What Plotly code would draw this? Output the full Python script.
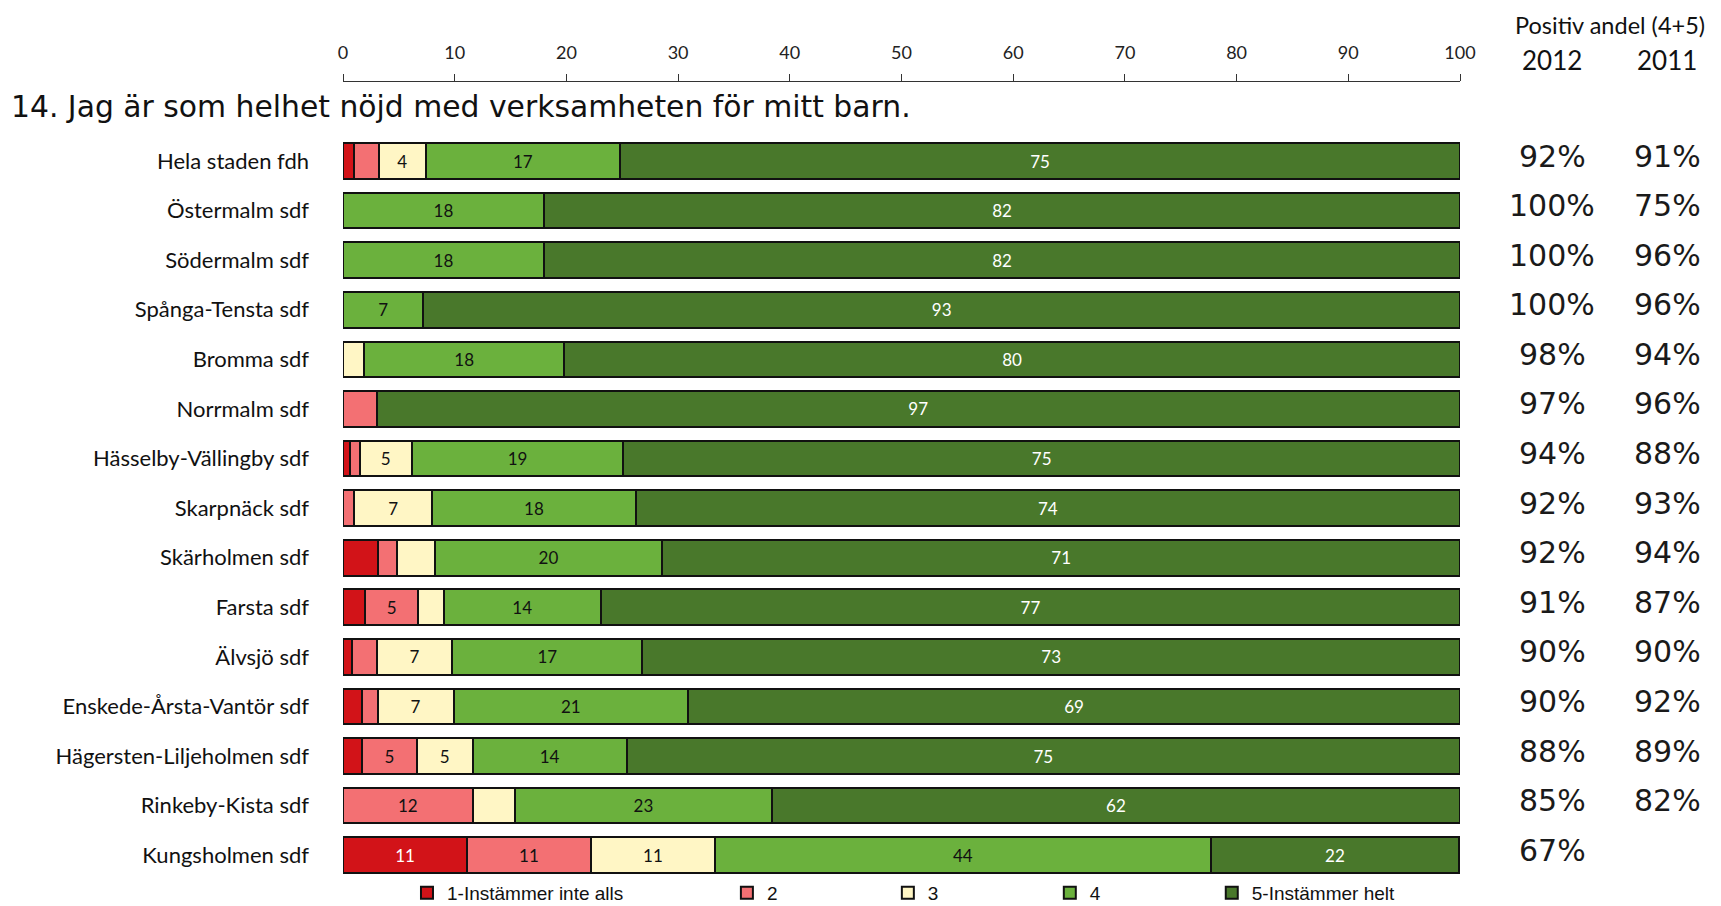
import plotly.graph_objects as go

categories = [
    "Hela staden fdh", "Östermalm sdf", "Södermalm sdf", "Spånga-Tensta sdf",
    "Bromma sdf", "Norrmalm sdf", "Hässelby-Vällingby sdf", "Skarpnäck sdf",
    "Skärholmen sdf", "Farsta sdf", "Älvsjö sdf", "Enskede-Årsta-Vantör sdf",
    "Hägersten-Liljeholmen sdf", "Rinkeby-Kista sdf", "Kungsholmen sdf",
]

s1 = [1.0, 0, 0, 0, 0, 0, 0.6, 0, 3.1, 2.0, 0.8, 1.7, 1.7, 0, 11.1]
s2 = [2.2, 0, 0, 0, 0, 3.0, 0.9, 1.0, 1.7, 4.7, 2.2, 1.4, 4.9, 11.6, 11.1]
s3 = [4.2, 0, 0, 0, 1.9, 0, 4.65, 7.0, 3.4, 2.3, 6.8, 6.8, 5.0, 3.8, 11.1]
s4 = [17.4, 18.0, 18.0, 7.2, 17.9, 0, 18.95, 18.2, 20.4, 14.1, 17.0, 21.0, 13.8, 23.0, 44.4]
s5 = [75.2, 82.0, 82.0, 92.8, 80.2, 97.0, 74.9, 73.8, 71.4, 76.9, 73.2, 69.1, 74.6, 61.6, 22.2]

series_names = ["1-Instämmer inte alls", "2", "3", "4", "5-Instämmer helt"]
series_values = [s1, s2, s3, s4, s5]
series_colors = ["#d21318", "#f37073", "#fff6c5", "#6bb13d", "#49782b"]
text_colors = ["#ffffff", "#111111", "#111111", "#111111", "#ffffff"]

pos2012 = ["92%", "100%", "100%", "100%", "98%", "97%", "94%", "92%", "92%",
           "91%", "90%", "90%", "88%", "85%", "67%"]
pos2011 = ["91%", "75%", "96%", "96%", "94%", "96%", "88%", "93%", "94%",
           "87%", "90%", "92%", "89%", "82%", ""]

x_ticks = [0, 10, 20, 30, 40, 50, 60, 70, 80, 90, 100]

# page is 1721x906; the html body has an 8px margin, so the figure is 8px smaller
OFF = 8
PAGE_W, PAGE_H = 1721, 906
W, H = PAGE_W - OFF, PAGE_H - OFF
# plot area in page pixels
PL, PR, PT, PB = 342.5, 1459.8, 82, 880
plot_w = PR - PL
plot_h = PB - PT


def px_x(px):
    return (px - PL) / plot_w


def px_y(py):
    return (PB - py) / plot_h


fig = go.Figure()
legend_ids = ["legend", "legend2", "legend3", "legend4", "legend5"]
legend_centers = [430.5, 750.5, 911.5, 1073.5, 1235.5]

for i, (name, vals, col, tcol) in enumerate(zip(series_names, series_values, series_colors, text_colors)):
    labels = [f"{round(v)}" if v >= 4 else "" for v in vals]
    fig.add_trace(go.Bar(
        y=categories, x=vals, name=name, orientation="h",
        marker=dict(color=col, line=dict(color="#111111", width=2)),
        text=labels, textposition="inside", insidetextanchor="middle",
        textangle=0, constraintext="none",
        textfont=dict(family="Lato", size=17, color=tcol),
        width=0.72, legend=legend_ids[i], showlegend=True, hoverinfo="skip",
    ))

layout_legends = {}
for i, lid in enumerate(legend_ids):
    layout_legends[lid] = dict(
        x=px_x(legend_centers[i] - 20 - 4), xanchor="left",
        y=px_y(893), yanchor="middle", orientation="h",
        bgcolor="rgba(0,0,0,0)", borderwidth=0, visible=True,
        font=dict(family="Liberation Sans", size=19, color="#111111"),
    )

annotations = []
for cat, a, b in zip(categories, pos2012, pos2011):
    annotations.append(dict(x=px_x(1552), y=cat, xref="paper", yref="y", text=a,
                            showarrow=False, xanchor="center", yanchor="middle", yshift=5,
                            font=dict(family="DejaVu Sans", size=30, color="#1a1a1a")))
    if b:
        annotations.append(dict(x=px_x(1667), y=cat, xref="paper", yref="y", text=b,
                                showarrow=False, xanchor="center", yanchor="middle", yshift=5,
                                font=dict(family="DejaVu Sans", size=30, color="#1a1a1a")))

annotations.append(dict(x=px_x(1610), y=px_y(25), xref="paper", yref="paper",
                        text="Positiv andel (4+5)", showarrow=False, xanchor="center", yanchor="middle",
                        font=dict(family="Lato", size=23.5, color="#111111")))
annotations.append(dict(x=px_x(1552), y=px_y(60), xref="paper", yref="paper",
                        text="2012", showarrow=False, xanchor="center", yanchor="middle",
                        font=dict(family="Lato", size=26, color="#111111")))
annotations.append(dict(x=px_x(1667), y=px_y(60), xref="paper", yref="paper",
                        text="2011", showarrow=False, xanchor="center", yanchor="middle",
                        font=dict(family="Lato", size=26, color="#111111")))

row_h = plot_h / 16.1
top_val = -0.5 - (161 - PT - row_h / 2) / row_h

fig.update_layout(
    width=W, height=H,
    margin=dict(l=PL - OFF, r=W - (PR - OFF), t=PT - OFF, b=H - (PB - OFF), pad=0, autoexpand=False),
    barmode="stack",
    showlegend=True,
    plot_bgcolor="white", paper_bgcolor="white",
    title=dict(text="14. Jag är som helhet nöjd med verksamheten för mitt barn.",
               x=3 / W, xanchor="left", xref="container",
               y=1 - 98.5 / H, yanchor="middle", yref="container",
               font=dict(family="DejaVu Sans", size=29.8, color="#111111")),
    xaxis=dict(range=[0, 100], side="top", tickvals=x_ticks, ticks="outside", ticklen=7,
               tickcolor="#333333", showline=True, linecolor="#333333", linewidth=1,
               showgrid=False, zeroline=False, ticklabelstandoff=8, automargin=False,
               tickfont=dict(family="Lato", size=18, color="#222222")),
    yaxis=dict(type="category", categoryorder="array", categoryarray=categories,
               range=[14.5, top_val], showgrid=False, zeroline=False, automargin=False,
               showline=False, ticks="", ticklabelstandoff=33,
               tickfont=dict(family="Lato", size=22, color="#111111")),
    annotations=annotations,
    **layout_legends,
)

fig.write_html("out.html")
